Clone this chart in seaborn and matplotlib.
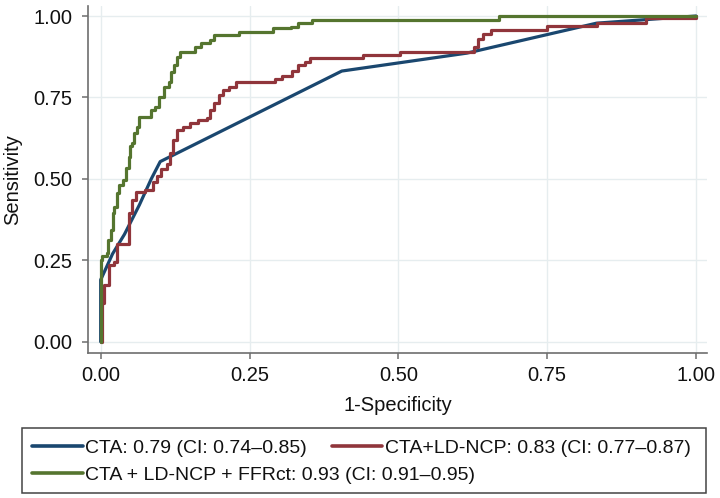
import matplotlib
matplotlib.use("Agg")
import matplotlib.pyplot as plt
import seaborn as sns
from matplotlib.lines import Line2D
from matplotlib.patches import Rectangle

# ROC curve vertices (fpr = 1-specificity, tpr = sensitivity)
cta_fpr = [0.0, 0.0, 0.02, 0.04, 0.065, 0.085, 0.10, 0.405, 0.615, 0.833, 1.0]
cta_tpr = [0.0, 0.19, 0.27, 0.33, 0.42, 0.50, 0.553, 0.831, 0.886, 0.978, 1.0]

# step curves: each point is where the curve reaches a new sensitivity level
ncp_fpr = [0.0, 0.003, 0.006, 0.014, 0.022, 0.027, 0.048, 0.052, 0.06, 0.075, 0.088,
           0.094, 0.102, 0.112, 0.117, 0.122, 0.128, 0.138, 0.15, 0.163, 0.178, 0.184,
           0.191, 0.199, 0.206, 0.215, 0.228, 0.292, 0.305, 0.321, 0.332, 0.343, 0.352,
           0.44, 0.503, 0.627, 0.634, 0.642, 0.655, 0.75, 0.833, 0.916, 1.0]
ncp_tpr = [0.0, 0.12, 0.175, 0.235, 0.245, 0.30, 0.395, 0.435, 0.46, 0.466, 0.49,
           0.51, 0.53, 0.545, 0.578, 0.62, 0.65, 0.66, 0.67, 0.68, 0.686, 0.712,
           0.732, 0.758, 0.773, 0.783, 0.798, 0.808, 0.816, 0.83, 0.85, 0.86, 0.87,
           0.88, 0.89, 0.905, 0.93, 0.945, 0.957, 0.969, 0.98, 0.993, 1.0]

ffr_fpr = [0.0, 0.0, 0.003, 0.01, 0.012, 0.017, 0.02, 0.023, 0.028, 0.031, 0.038,
           0.042, 0.047, 0.049, 0.053, 0.056, 0.061, 0.064, 0.084, 0.092, 0.098,
           0.106, 0.114, 0.118, 0.123, 0.128, 0.134, 0.158, 0.168, 0.184, 0.191,
           0.233, 0.29, 0.32, 0.332, 0.355, 0.669, 1.0]
ffr_tpr = [0.0, 0.25, 0.262, 0.272, 0.313, 0.344, 0.395, 0.415, 0.456, 0.482, 0.497,
           0.533, 0.568, 0.60, 0.609, 0.64, 0.66, 0.691, 0.712, 0.722, 0.752,
           0.783, 0.798, 0.829, 0.85, 0.875, 0.89, 0.906, 0.916, 0.926, 0.942,
           0.952, 0.962, 0.967, 0.977, 0.988, 1.0, 1.0]

labels = ["CTA: 0.79 (CI: 0.74\u20130.85)",
          "CTA+LD-NCP: 0.83 (CI: 0.77\u20130.87)",
          "CTA + LD-NCP + FFRct: 0.93 (CI: 0.91\u20130.95)"]
ticks = [0.0, 0.25, 0.5, 0.75, 1.0]

navy = "#1a476f"
maroon = "#90353b"
green = "#55752f"
axis_col = "#6e6e6e"

sns.set_theme(style="white")
plt.rcParams['font.family'] = ['Liberation Sans', 'DejaVu Sans']

fig = plt.figure(figsize=(7.2, 4.98), dpi=100)
ax = fig.add_axes([88 / 720, 1 - 352.5 / 498, 619 / 720, 346.5 / 498])

sns.lineplot(x=cta_fpr, y=cta_tpr, color=navy, lw=2.3, estimator=None, sort=False, ax=ax)
sns.lineplot(x=ncp_fpr, y=ncp_tpr, color=maroon, lw=2.3, estimator=None, sort=False,
             drawstyle="steps-post", ax=ax)
sns.lineplot(x=ffr_fpr, y=ffr_tpr, color=green, lw=2.3, estimator=None, sort=False,
             drawstyle="steps-post", ax=ax)

ax.set_xlim(-0.0213, 1.0185)
ax.set_ylim(-0.033, 1.0307)
ax.set_xticks(ticks)
ax.set_yticks(ticks)
ax.set_xticklabels([f"{t:.2f}" for t in ticks])
ax.set_yticklabels([f"{t:.2f}" for t in ticks])
ax.grid(True, color="#e6edef", lw=1)
for side in ["top", "right"]:
    ax.spines[side].set_visible(False)
for side in ["left", "bottom"]:
    ax.spines[side].set_color(axis_col)
    ax.spines[side].set_linewidth(1.2)
ax.tick_params(axis="both", direction="out", length=4.3, width=1.1, color=axis_col,
               labelsize=14.5, labelcolor="#111111", left=True, bottom=True)
ax.tick_params(axis="x", pad=5.5)
ax.tick_params(axis="y", pad=7)

ax.set_xlabel("1-Specificity", fontsize=14.5, color="#111111")
ax.set_ylabel("Sensitivity", fontsize=14.5, color="#111111")
ax.xaxis.set_label_coords(0.5, -0.152)
ax.xaxis.label.set_va("center")
ax.yaxis.set_label_coords(-0.121, 0.5)
ax.yaxis.label.set_va("center")

# legend: framed box below plot, two entries on first row, one on second
fig.patches.append(Rectangle((22 / 720, 1 - 493 / 498), 684 / 720, 65 / 498,
                             transform=fig.transFigure, fill=False,
                             edgecolor="#444444", lw=1.1))
h = [Line2D([], [], color=c, lw=2.6) for c in (navy, maroon, green)]
leg_kw = dict(frameon=False, fontsize=14, handlelength=2.6, handletextpad=0.15,
              borderpad=0, borderaxespad=0, loc="center left")
leg1 = fig.legend(h[:2], labels[:2], ncol=2, columnspacing=1.25,
                  bbox_to_anchor=(32 / 720, 1 - 448 / 498), **leg_kw)
leg2 = fig.legend(h[2:], labels[2:], bbox_to_anchor=(32 / 720, 1 - 475 / 498), **leg_kw)
for lg in (leg1, leg2):
    for t in lg.get_texts():
        t.set_color("#111111")

fig.savefig("out.png", dpi=100)
